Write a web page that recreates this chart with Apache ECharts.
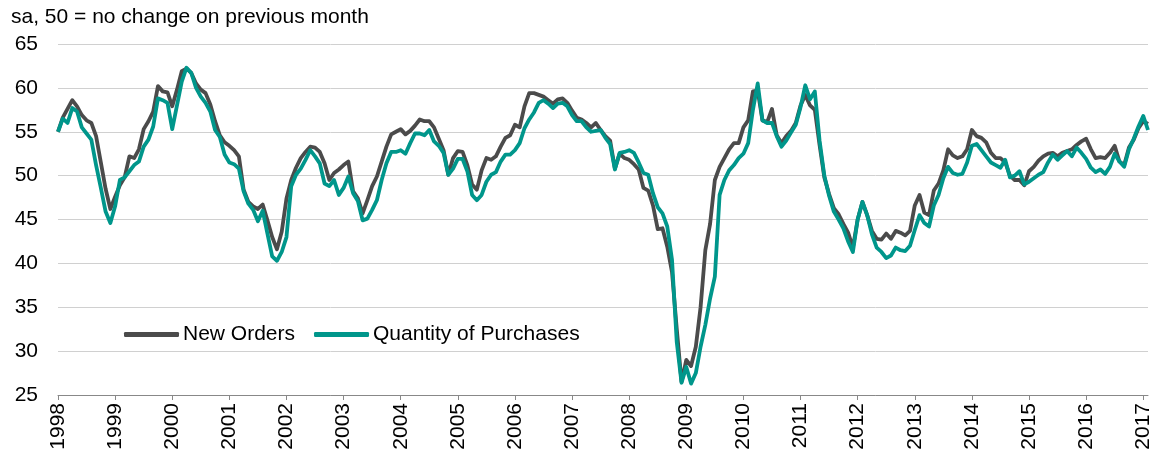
<!DOCTYPE html>
<html>
<head>
<meta charset="utf-8">
<script src="https://cdn.jsdelivr.net/npm/echarts@6/dist/echarts.min.js"></script>
<style>
  html, body { margin: 0; padding: 0; background: #fff; }
  #chart { width: 1159px; height: 459px; }
</style>
</head>
<body>
<div id="chart"></div>
<script>
const startYear = 1998
const seriesNames = ['New Orders', 'Quantity of Purchases']

// monthly, Jan 1998 .. Feb 2017
const newOrders = [
  55.0, 56.6, 57.6, 58.6, 57.9, 56.9, 56.3, 56.0, 54.5, 51.5, 48.5, 46.2,
  47.6, 48.9, 49.8, 52.2, 52.0, 53.0, 55.3, 56.2, 57.3, 60.2, 59.6, 59.5,
  57.9, 59.8, 61.9, 62.2, 61.7, 60.5, 59.8, 59.4, 58.1, 56.2, 54.6, 53.8,
  53.4, 52.9, 52.2, 48.4, 47.0, 46.5, 46.2, 46.7, 44.9, 43.0, 41.6, 43.6,
  47.4, 49.5, 50.9, 52.0, 52.7, 53.3, 53.2, 52.7, 51.4, 49.5, 50.3, 50.7,
  51.2, 51.6, 48.2, 47.4, 45.7, 47.2, 48.8, 49.9, 51.6, 53.3, 54.7, 55.0,
  55.3, 54.7, 55.1, 55.7, 56.4, 56.2, 56.2, 55.5, 54.2, 52.9, 50.1, 52.0,
  52.8, 52.7, 51.2, 49.0, 48.4, 50.6, 52.0, 51.8, 52.2, 53.3, 54.3, 54.6,
  55.8, 55.5, 57.9, 59.4, 59.4, 59.2, 59.0, 58.6, 58.2, 58.7, 58.8, 58.3,
  57.4, 56.6, 56.4, 56.0, 55.5, 56.0, 55.2, 54.5, 54.0, 50.8, 52.5, 52.0,
  51.8, 51.3, 50.7, 48.6, 48.3, 46.6, 43.9, 44.0, 41.9, 39.0, 32.5, 26.5,
  29.0, 28.3, 30.5, 35.0, 41.5, 44.5, 49.5, 51.0, 52.0, 53.0, 53.7, 53.7,
  55.5, 56.3, 59.6, 59.7, 56.3, 56.1, 57.6, 54.6, 53.7, 54.5, 55.1, 56.0,
  58.0, 59.2, 58.0, 57.5, 53.5, 49.8, 47.9, 46.3, 45.6, 44.5, 43.5, 41.8,
  45.0, 47.0, 45.5, 43.7, 42.8, 42.7, 43.4, 42.8, 43.7, 43.5, 43.2, 43.7,
  46.6, 47.8, 45.8, 45.5, 48.3, 49.1, 50.6, 53.0, 52.3, 52.0, 52.2, 53.0,
  55.2, 54.5, 54.3, 53.8, 52.6, 52.0, 52.0, 51.5, 50.0, 49.5, 49.5, 48.9,
  50.5, 51.0, 51.7, 52.2, 52.5, 52.6, 52.2, 52.6, 52.8, 53.0, 53.5, 53.9,
  54.2, 53.0, 52.0, 52.1, 52.0, 52.6, 53.4, 51.6, 51.2, 53.2, 54.1, 55.4,
  56.2, 55.9
]

const purchases = [
  55.0, 56.5, 56.0, 57.7, 57.3, 55.5, 54.8, 54.1, 51.2, 48.6, 45.9, 44.6,
  46.5, 49.5, 49.8, 50.5, 51.2, 51.6, 53.3, 54.1, 55.6, 58.8, 58.6, 58.3,
  55.3, 58.0, 60.7, 62.3, 61.7, 60.0, 59.0, 58.3, 57.3, 55.2, 54.4, 52.4,
  51.5, 51.3, 50.8, 48.2, 46.8, 46.1, 44.8, 46.0, 43.4, 40.8, 40.3, 41.3,
  43.0, 48.8, 50.1, 50.8, 51.8, 52.9, 52.2, 51.4, 49.1, 48.8, 49.5, 47.8,
  48.6, 49.9, 48.0, 47.1, 44.9, 45.1, 46.1, 47.2, 49.5, 51.4, 52.7, 52.7,
  52.9, 52.5, 53.7, 54.8, 54.8, 54.6, 55.2, 53.9, 53.4, 52.6, 50.1, 50.8,
  51.9, 51.9, 50.5, 47.8, 47.2, 47.8, 49.3, 50.1, 50.4, 51.6, 52.4, 52.4,
  52.9, 53.7, 55.4, 56.4, 57.2, 58.3, 58.6, 58.2, 57.7, 58.2, 58.3, 57.9,
  56.9, 56.2, 56.2, 55.5, 55.0, 55.1, 55.2, 54.3, 53.6, 50.7, 52.6, 52.7,
  52.9, 52.6, 51.5, 50.3, 50.1, 48.0, 46.4, 45.7, 44.2, 40.4, 31.0, 26.4,
  28.2, 26.3, 27.5, 30.5, 33.0, 36.0, 38.5, 47.8, 49.5, 50.6, 51.2, 52.0,
  52.5, 53.7, 57.5, 60.5, 56.3, 56.0, 56.0, 54.5, 53.3, 54.0, 54.9, 55.8,
  57.8, 60.3, 58.7, 59.6, 54.0, 50.0, 47.7, 45.9, 45.0, 44.0, 42.5, 41.3,
  45.0, 47.0, 45.5, 43.3, 41.8, 41.3, 40.6, 40.9, 41.8, 41.5, 41.4, 42.0,
  43.8, 45.5, 44.6, 44.2, 46.6, 47.8, 49.7, 51.0, 50.3, 50.1, 50.2, 51.5,
  53.4, 53.6, 52.9, 52.2, 51.5, 51.2, 50.9, 51.8, 49.8, 50.0, 50.5, 49.0,
  49.3, 49.7, 50.1, 50.4, 51.5, 52.4, 51.8, 52.3, 52.8, 52.2, 53.2, 52.6,
  51.9, 50.9, 50.4, 50.7, 50.2, 51.0, 52.5, 51.6, 51.0, 53.0, 54.2, 55.6,
  56.8, 55.2
]

const yMin = 25
const yMax = 65
const yStep = 5

// category per month: "1998-01" ...
const months = newOrders.map((_, i) => {
  const y = startYear + Math.floor(i / 12)
  const m = (i % 12) + 1
  return y + '-' + (m < 10 ? '0' + m : m)
})
const isJan = (i) => i % 12 === 0

const font = 'Liberation Sans, Arial, sans-serif'
const colors = ['#4b4b4b', '#00968b']

const chart = echarts.init(document.getElementById('chart'))
chart.setOption({
  animation: false,
  textStyle: { fontFamily: font },
  title: {
    text: 'sa, 50 = no change on previous month',
    left: 6,
    top: 2,
    textStyle: { fontFamily: font, fontSize: 21, fontWeight: 'normal', color: '#000' },
  },
  legend: {
    data: seriesNames,
    icon: 'roundRect',
    left: 119,
    top: 319,
    padding: 5,
    itemWidth: 55,
    itemHeight: 5,
    itemGap: 19,
    textStyle: { fontFamily: font, fontSize: 21, color: '#000', padding: [0, 0, 0, -1] },
  },
  grid: { left: 58, right: 11, top: 44, bottom: 64, containLabel: false },
  xAxis: {
    type: 'category',
    data: months,
    boundaryGap: false,
    axisLine: { lineStyle: { color: '#888', width: 1 } },
    axisTick: { interval: isJan, length: 5, lineStyle: { color: '#888' } },
    axisLabel: {
      interval: isJan,
      rotate: 90,
      margin: 8,
      formatter: (v) => v.slice(0, 4),
      fontFamily: font,
      fontSize: 21,
      color: '#000',
    },
    splitLine: { show: false },
  },
  yAxis: {
    type: 'value',
    min: yMin,
    max: yMax,
    interval: yStep,
    axisLine: { show: false },
    axisTick: { show: false },
    axisLabel: { margin: 20, fontFamily: font, fontSize: 21, color: '#000' },
    splitLine: { lineStyle: { color: '#d0d0d0', width: 1 } },
  },
  series: [
    {
      name: seriesNames[0],
      type: 'line',
      data: newOrders,
      showSymbol: false,
      symbol: 'none',
      color: colors[0],
      lineStyle: { width: 3.8, color: colors[0], join: 'round' },
    },
    {
      name: seriesNames[1],
      type: 'line',
      data: purchases,
      showSymbol: false,
      symbol: 'none',
      color: colors[1],
      lineStyle: { width: 3.8, color: colors[1], join: 'round' },
    },
  ],
})
</script>
</body>
</html>
